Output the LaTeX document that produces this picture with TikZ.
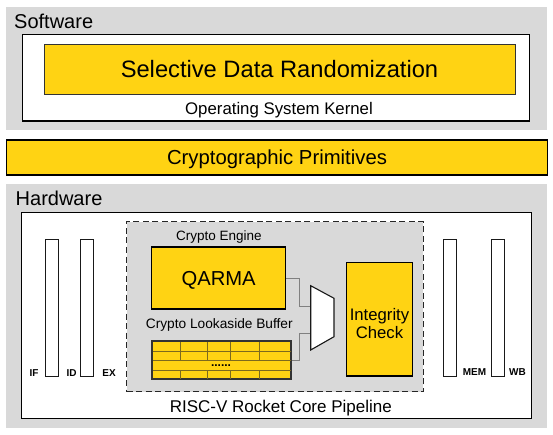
\documentclass[tikz,border=0pt]{standalone}
\usepackage{fontspec}
\setmainfont{Liberation Sans}
\definecolor{gold}{HTML}{FFD313}
\definecolor{layergray}{HTML}{D9D9D9}
\definecolor{wiregray}{HTML}{808080}
\definecolor{cellline}{HTML}{7D6A1E}
\newcommand{\setfs}[1]{\fontsize{#1}{#1}\selectfont}

\begin{document}
\begin{tikzpicture}[x=1pt,y=-1pt,
    layer/.style={fill=layergray,inner sep=0pt},
    wbox/.style={fill=white,draw=black,line width=1.3pt,inner sep=0pt},
    ybox/.style={fill=gold,draw=black,line width=1.1pt,inner sep=0pt,text depth=0pt},
    stage/.style={fill=white,draw=black!90,line width=1pt,inner sep=0pt,minimum width=13,minimum height=136},
    stagelbl/.style={anchor=base,inner sep=0pt,font=\setfs{10}\bfseries},
    txt/.style={anchor=base,inner sep=0pt},
    wire/.style={draw=wiregray,line width=1pt},
    cell/.style={draw=cellline,line width=0.8pt}]
  \useasboundingbox (0,0) rectangle (553,435);
  % software layer
  \node[layer,minimum width=541,minimum height=123.3] (sw) at (276.5,68.35) {};
  \node[txt,anchor=base west,font=\setfs{20}] (swlbl) at (14,28.5) {Software};
  \node[wbox,minimum width=507.2,minimum height=86.7] (kernel) at (275.9,77.65) {};
  \node[ybox,draw=black!80,line width=0.9pt,minimum width=471,minimum height=50,text height=17pt,font=\setfs{23.7}] (sdr) at (279.5,69.3) {Selective Data Randomization};
  \node[txt,font=\setfs{16.8}] (kernellbl) at (279,115) {Operating System Kernel};
  % primitives
  \node[ybox,line width=1.3pt,minimum width=540.6,minimum height=35,text height=14.5pt,font=\setfs{20.3}] (prim) at (277,157.5) {Cryptographic Primitives};
  % hardware layer
  \node[layer,minimum width=541,minimum height=244] (hw) at (276.5,306) {};
  \node[txt,anchor=base west,font=\setfs{20}] (hwlbl) at (15.5,206) {Hardware};
  \node[wbox,minimum width=509.8,minimum height=206] (pipe) at (276.6,315.3) {};
  \node[txt,font=\setfs{17}] (pipelbl) at (280.8,412.7) {RISC-V Rocket Core Pipeline};
  % pipeline stages
  \node[stage] (if) at (52,308) {};
  \node[stage] (id) at (87,308) {};
  \node[stage] (mem) at (450,308) {};
  \node[stage] (wb) at (497.5,308) {};
  \node[stagelbl] (iflbl) at (34,376.5) {IF};
  \node[stagelbl] (idlbl) at (71.5,376.5) {ID};
  \node[stagelbl] (exlbl) at (109,376.5) {EX};
  \node[stagelbl] (memlbl) at (474.5,375) {MEM};
  \node[stagelbl] (wblbl) at (517.5,375) {WB};
  % crypto unit
  \node[fill=layergray,draw=black!85,line width=1.5pt,dash pattern=on 6pt off 3.5pt,minimum width=296.6,minimum height=170,inner sep=0pt] (unit) at (275,306.7) {};
  \node[txt,font=\setfs{13.5}] (enginelbl) at (218.8,240.7) {Crypto Engine};
  \node[ybox,minimum width=133.8,minimum height=62,text height=14.5pt,font=\setfs{20.2}] (qarma) at (218.6,278) {QARMA};
  \node[txt,font=\setfs{13.7}] (clblbl) at (219.3,328) {Crypto Lookaside Buffer};
  \node[ybox,draw=black!80,line width=1.4pt,minimum width=139,minimum height=38] (clb) at (221.5,360) {};
  \foreach \y in {351,360.7,370}
    \draw[cell] (152.5,\y) -- (290.5,\y);
  \foreach \x in {180,207.7,230,259} {
    \draw[cell] (\x,341.5) -- (\x,360.7);
    \draw[cell] (\x,370) -- (\x,378.5);
  }
  \node[inner sep=0pt,font=\setfs{12}\bfseries] (dots) at (221,365.5) {......};
  \node[ybox,line width=1.3pt,minimum width=66,minimum height=113.3] (check) at (379.7,319.35) {};
  \node[txt,align=center,font=\fontsize{16.7}{18.5}\selectfont] (checklbl) at (379.5,338.5) {Integrity\\Check};
  % mux
  \coordinate (muxa) at (310.7,306);
  \coordinate (muxb) at (310.7,333.3);
  \draw[wire] (qarma.east) -- ++(13,0) |- (muxa);
  \draw[wire] (clb.east) -- ++(7.3,0) |- (muxb);
  \draw[fill=white,draw=black!90,line width=1.1pt] (310.7,285.7) coordinate (mux1) -- (334,298.3) coordinate (mux2)
        -- (334,336.7) coordinate (mux3) -- (310.7,350) coordinate (mux4) -- cycle;
\end{tikzpicture}
\end{document}
